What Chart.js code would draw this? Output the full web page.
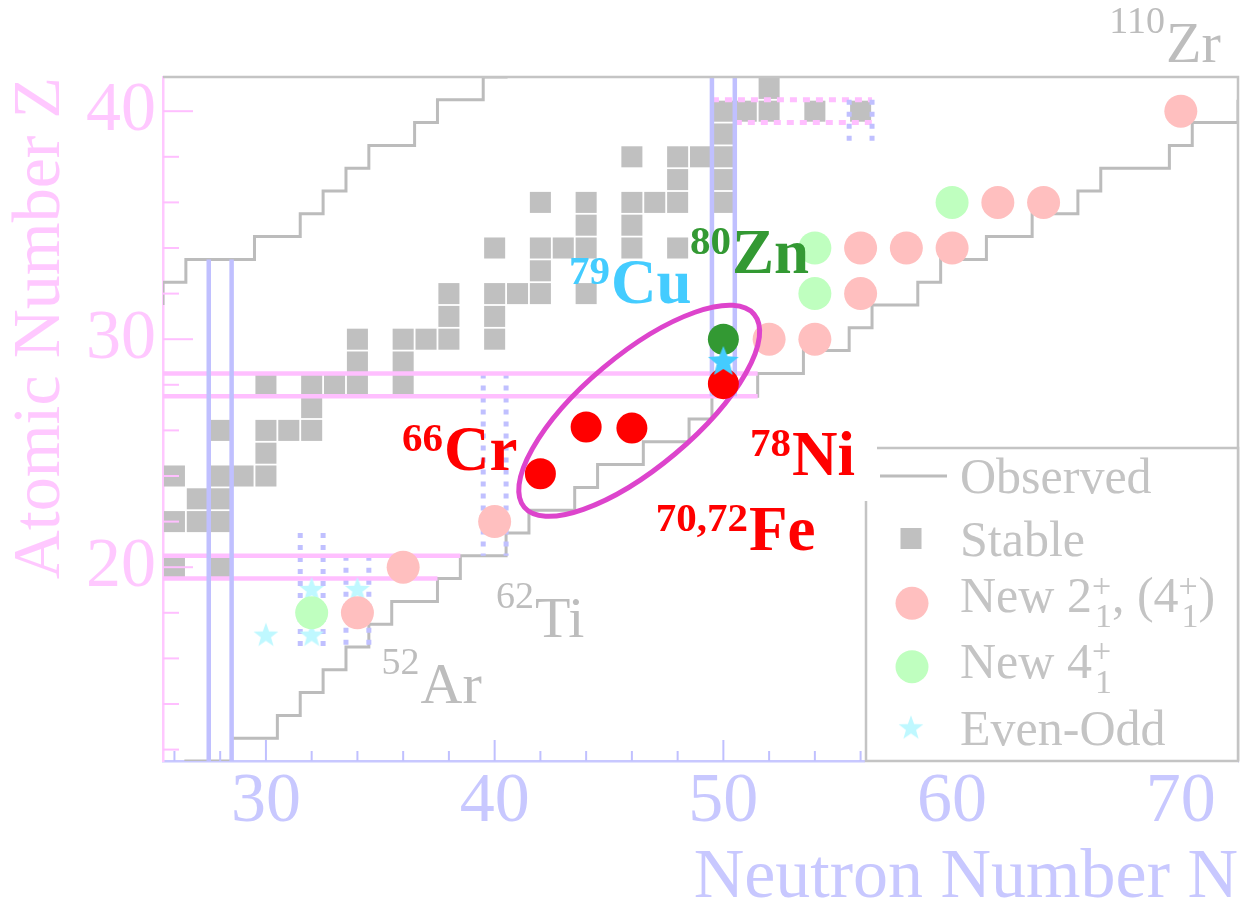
<!DOCTYPE html>
<html>
<head>
<meta charset="utf-8">
<title>Nuclear chart near 78Ni</title>
<script src="https://cdn.jsdelivr.net/npm/chart.js@4/dist/chart.umd.min.js"></script>
<style>
html,body{margin:0;padding:0;background:#ffffff;overflow:hidden;}
canvas{display:block;}
</style>
</head>
<body>
<canvas id="chart" width="1249" height="908"></canvas>
<script>
// ================= DATA =================
const xTickValues = [26,28,30,32,34,36,38,40,42,44,46,48,50,52,54,56,58,60,62,64,66,68,70,72];
const yTickValues = [12,14,16,18,20,22,24,26,28,30,32,34,36,38,40];
const xTickLabels = [30,40,50,60,70];
const yTickLabels = [20,30,40];

// stable nuclei [N, Z]
const stableNuclei = [
  [26,20],[28,20],
  [26,22],[27,22],[28,22],
  [27,23],[28,23],
  [26,24],[28,24],[29,24],[30,24],
  [30,25],
  [28,26],[30,26],[31,26],[32,26],
  [32,27],
  [30,28],[32,28],[33,28],[34,28],[36,28],
  [34,29],[36,29],
  [34,30],[36,30],[37,30],[38,30],[40,30],
  [38,31],[40,31],
  [38,32],[40,32],[41,32],[42,32],[44,32],
  [42,33],
  [40,34],[42,34],[43,34],[44,34],[46,34],[48,34],
  [44,35],[46,35],
  [42,36],[44,36],[46,36],[47,36],[48,36],[50,36],
  [48,37],[50,37],
  [46,38],[48,38],[49,38],[50,38],
  [50,39],
  [50,40],[51,40],[52,40],[54,40],[56,40],
  [52,41]
];

// new 2+ (4+) states [N, Z]
const new2plus = [[34,18],[36,20],[40,22],[52,30],[54,30],[56,32],[56,34],[58,34],[60,34],[62,36],[64,36],[70,40]];
// new 4+ states
const new4plus = [[32,18],[54,32],[54,34],[60,36]];
// even-odd nuclei
const evenOdd = [[30,17],[32,17],[32,19],[34,19]];
// highlighted nuclei
const highlightRed = [[42,24.1],[44,26.15],[46,26.1],[50,28.05]];   // 66Cr, 70Fe, 72Fe, 78Ni
const highlightGreen = [[50,30]];                                  // 80Zn
const highlightCyan = [[50,29]];                                   // 79Cu

// limits of observed nuclei (step corners) [N, Z]
const protonSideLimit = [
  [25.5,31.5],[25.5,32.5],[26.5,32.5],[26.5,33.5],[29.5,33.5],[29.5,34.5],[31.5,34.5],[31.5,35.5],
  [32.5,35.5],[32.5,36.5],[33.5,36.5],[33.5,37.5],[34.5,37.5],[34.5,38.5],[36.5,38.5],[36.5,39.5],
  [37.5,39.5],[37.5,40.5],[39.5,40.5],[39.5,41.5],[40.5,41.5],[40.5,42.5]
];
const neutronSideLimit = [
  [26.5,10.5],[26.5,11.5],[28.5,11.5],[28.5,12.5],[30.5,12.5],[30.5,13.5],[31.5,13.5],[31.5,14.5],
  [32.5,14.5],[32.5,15.5],[33.5,15.5],[33.5,16.5],[34.5,16.5],[34.5,17.5],[35.5,17.5],[35.5,18.5],
  [37.5,18.5],[37.5,19.5],[38.5,19.5],[38.5,20.5],[40.5,20.5],[40.5,21.5],[41.5,21.5],[41.5,22.5],
  [43.5,22.5],[43.5,23.5],[44.5,23.5],[44.5,24.5],[46.5,24.5],[46.5,25.5],[48.5,25.5],[48.5,26.5],
  [49.5,26.5],[49.5,27.5],[51.5,27.5],[51.5,28.5],[53.5,28.5],[53.5,29.5],[55.5,29.5],[55.5,30.5],
  [56.5,30.5],[56.5,31.5],[58.5,31.5],[58.5,32.5],[59.5,32.5],[59.5,33.5],[61.5,33.5],[61.5,34.5],
  [63.5,34.5],[63.5,35.5],[65.5,35.5],[65.5,36.5],[66.5,36.5],[66.5,37.5],[69.5,37.5],[69.5,38.5],
  [70.5,38.5],[70.5,39.5],[72.5,39.5],[72.5,40.5],[73.5,40.5]
];

// magic-number lines
const shellLinesN = [[27.5,11.5,33.5],[28.5,11.5,33.5],[49.5,27.5,41.5],[50.5,27.5,41.5]];   // [N, Zfrom, Zto]
const shellLinesZ = [[19.5,25.5,37.5],[20.5,25.5,38.5],[27.5,25.5,51.5],[28.5,25.5,51.5]];   // [Z, Nfrom, Nto]
const subShellN = [[31.5,16.5,21.5],[32.5,16.5,21.5],[33.5,16.5,20.5],[34.5,16.5,20.5],
                   [39.5,20.5,28.5],[40.5,20.5,28.5],[55.5,38.5,40.5],[56.5,38.5,40.5]];    // [N, Zfrom, Zto]
const subShellZ = [[39.5,50.5,56.5],[40.5,49.5,56.5]];                                       // [Z, Nfrom, Nto]

// nucleus labels
const labelSup = ['66','79','80','78','70,72','52','62','110'];
const labelSym = ['Cr','Cu','Zn','Ni','Fe','Ar','Ti','Zr'];
const labelAnchor = [[37.79,24.26],[45.09,31.57],[50.38,32.89],[53.0,24.04],[51.12,20.75],[36.76,14.03],[41.76,16.95],[69.35,42.16]];

// ellipse around the region of interest (data units)
const ellipseCenter = [46.32, 26.86];
const ellipseSemiAxes = [6.56, 2.45];
const ellipseAngleDeg = 40;

// ================= STYLES =================
const SERIF = "'Liberation Serif', 'Times New Roman', Times, serif";
const AXIS_BLUE = '#c8c8ff';
const AXIS_PINK = '#ffc8ff';
const LINE_BLUE = '#c0c0ff';
const LINE_PINK = '#ffbfff';
const GRAY_LINE = '#bcbcbc';
const GRAY_SQ = '#c0c0c0';
const PINK_DOT = '#ffbfbf';
const GREEN_DOT = '#bfffbf';
const CYAN_LIGHT = '#bff8ff';
const LABEL_GRAY = '#bdbdbd';
const labelColor = ['#ff0000','#44ccff','#339933','#ff0000','#ff0000',LABEL_GRAY,LABEL_GRAY,LABEL_GRAY];
const labelBold = [true,true,true,true,true,false,false,false];

function makeStar(R, r, color) {
  const c = document.createElement('canvas');
  const s = Math.ceil(2 * R + 2);
  c.width = s; c.height = s;
  const g = c.getContext('2d');
  g.fillStyle = color;
  g.beginPath();
  for (let i = 0; i < 10; i++) {
    const a = -Math.PI / 2 + i * Math.PI / 5;
    const rad = (i % 2) ? r : R;
    g.lineTo(s / 2 + rad * Math.cos(a), s / 2 + rad * Math.sin(a));
  }
  g.closePath();
  g.fill();
  return c;
}
const starLight = makeStar(13, 5.3, CYAN_LIGHT);
const starBright = makeStar(16, 7, '#44ccff');

const pts = arr => arr.map(([x, y]) => ({x, y}));
const cellPx = chart => Math.abs(chart.scales.x.getPixelForValue(1) - chart.scales.x.getPixelForValue(0));

const datasets = [];
function lineSet(data, color, width, dash, order) {
  datasets.push({data, showLine: true, borderColor: color, borderWidth: width, borderDash: dash || [],
    borderCapStyle: 'butt', pointRadius: 0, fill: false, tension: 0, order});
}
lineSet(pts(protonSideLimit), GRAY_LINE, 3, null, 100);
lineSet(pts(neutronSideLimit), GRAY_LINE, 3, null, 100);

datasets.push({label: 'Stable', data: pts(stableNuclei), pointStyle: 'rect', backgroundColor: GRAY_SQ, borderWidth: 0,
  pointRadius: c => cellPx(c.chart) * 0.92 / Math.SQRT2, order: 90});

shellLinesN.forEach(([n, z1, z2]) => lineSet([{x: n, y: z1}, {x: n, y: z2}], LINE_BLUE, 4.5, null, 80));
shellLinesZ.forEach(([z, n1, n2]) => lineSet([{x: n1, y: z}, {x: n2, y: z}], LINE_PINK, 4.5, null, 80));
subShellN.forEach(([n, z1, z2]) => lineSet([{x: n, y: z2}, {x: n, y: z1}], LINE_BLUE, 5, [5, 7], 80));
subShellZ.forEach(([z, n1, n2]) => lineSet([{x: n1, y: z}, {x: n2, y: z}], LINE_PINK, 5, [7, 6], 80));

datasets.push({label: 'New 2+', data: pts(new2plus), pointStyle: 'circle', backgroundColor: PINK_DOT, borderWidth: 0, pointRadius: 16.5, order: 70});
datasets.push({label: 'New 4+', data: pts(new4plus), pointStyle: 'circle', backgroundColor: GREEN_DOT, borderWidth: 0, pointRadius: 16.5, order: 70});
datasets.push({label: 'Even-Odd', data: pts(evenOdd), pointStyle: starLight, pointRadius: 13, order: 70});
datasets.push({label: 'highlightRed', data: pts(highlightRed), pointStyle: 'circle', backgroundColor: '#ff0000', borderWidth: 0, pointRadius: 15.5, order: 3});
datasets.push({label: 'highlightGreen', data: pts(highlightGreen), pointStyle: 'circle', backgroundColor: '#339933', borderWidth: 0, pointRadius: 15.5, order: 2});
datasets.push({label: 'highlightCyan', data: pts(highlightCyan), pointStyle: starBright, pointRadius: 16, order: 1});

// ================= PLUGINS =================
const ellipsePlugin = {
  id: 'ellipseMark',
  beforeDatasetDraw(chart, args) {
    if (chart.data.datasets[args.index].label !== 'highlightRed') return;
    const {ctx, scales: {x, y}, chartArea: a} = chart;
    const cx = x.getPixelForValue(ellipseCenter[0]);
    const cy = y.getPixelForValue(ellipseCenter[1]);
    const u = cellPx(chart);
    ctx.save();
    ctx.beginPath(); ctx.rect(a.left, a.top, a.right - a.left, a.bottom - a.top); ctx.clip();
    ctx.beginPath();
    ctx.ellipse(cx, cy, ellipseSemiAxes[0] * u, ellipseSemiAxes[1] * u, -ellipseAngleDeg * Math.PI / 180, 0, 2 * Math.PI);
    ctx.lineWidth = 5;
    ctx.strokeStyle = '#dd44cc';
    ctx.stroke();
    ctx.restore();
  }
};

const decorPlugin = {
  id: 'decor',
  afterDraw(chart) {
    const {ctx, chartArea: a, scales: {x, y}} = chart;
    ctx.save();
    // inward ticks
    ctx.lineWidth = 2;
    ctx.strokeStyle = LINE_BLUE;
    x.ticks.forEach(t => {
      const px = x.getPixelForValue(t.value);
      const len = t.value % 10 === 0 ? 21 : 10;
      ctx.beginPath(); ctx.moveTo(px, a.bottom); ctx.lineTo(px, a.bottom - len); ctx.stroke();
    });
    ctx.strokeStyle = LINE_PINK;
    y.ticks.forEach(t => {
      const py = y.getPixelForValue(t.value);
      const len = t.value % 10 === 0 ? 30 : 16;
      ctx.beginPath(); ctx.moveTo(a.left, py); ctx.lineTo(a.left + len, py); ctx.stroke();
    });
    // top and right frame
    ctx.strokeStyle = '#c4c4c4';
    ctx.lineWidth = 2.5;
    ctx.beginPath();
    ctx.moveTo(a.left, a.top); ctx.lineTo(a.right, a.top); ctx.lineTo(a.right, a.bottom);
    ctx.stroke();

    // nucleus labels
    labelSym.forEach((sym, i) => {
      const px = x.getPixelForValue(labelAnchor[i][0]);
      const py = y.getPixelForValue(labelAnchor[i][1]);
      const bold = labelBold[i];
      ctx.fillStyle = labelColor[i];
      ctx.textBaseline = 'alphabetic';
      ctx.font = (bold ? 'bold 41px ' : '38px ') + SERIF;
      ctx.textAlign = 'right';
      ctx.fillText(labelSup[i], px - 1, py - (bold ? 19 : 29));
      ctx.font = (bold ? 'bold 63px ' : '58px ') + SERIF;
      ctx.textAlign = 'left';
      ctx.fillText(sym, px, py);
    });

    // legend box
    const L = a.right - 372, T = a.bottom - 313;
    ctx.fillStyle = '#ffffff';
    ctx.fillRect(L - 1, T, a.right - L + 1, a.bottom - T + 2);
    ctx.strokeStyle = '#c4c4c4';
    ctx.lineWidth = 2.5;
    ctx.beginPath();
    ctx.moveTo(L + 11, T); ctx.lineTo(a.right, T); ctx.lineTo(a.right, a.bottom); ctx.lineTo(L, a.bottom); ctx.lineTo(L, T + 53);
    ctx.stroke();

    const mainFont = '50px ' + SERIF, smallFont = '34px ' + SERIF;
    const tx = L + 94, mx = L + 45;
    // Observed
    ctx.strokeStyle = GRAY_LINE; ctx.lineWidth = 3;
    ctx.beginPath(); ctx.moveTo(L + 14, T + 28); ctx.lineTo(L + 81, T + 28); ctx.stroke();
    // Stable
    ctx.fillStyle = GRAY_SQ;
    ctx.fillRect(mx - 10.5, T + 80, 21, 21);
    // circles
    ctx.fillStyle = PINK_DOT;
    ctx.beginPath(); ctx.arc(mx + 1, T + 155.3, 16.5, 0, 2 * Math.PI); ctx.fill();
    ctx.fillStyle = GREEN_DOT;
    ctx.beginPath(); ctx.arc(mx + 1, T + 218.7, 16.5, 0, 2 * Math.PI); ctx.fill();
    ctx.drawImage(starLight, mx - starLight.width / 2, T + 280.3 - starLight.height / 2);

    ctx.fillStyle = '#c4c4c4';
    ctx.textAlign = 'left';
    ctx.textBaseline = 'alphabetic';
    const rich = (parts, base, supOff) => {
      let cx = tx;
      parts.forEach(p => {
        if (p.length === 1) {
          ctx.font = mainFont; ctx.fillText(p[0], cx, base); cx += ctx.measureText(p[0]).width;
        } else {
          ctx.font = smallFont;
          ctx.fillText(p[0], cx, base - supOff);
          ctx.fillText(p[1], cx + 3, base + 15);
          cx += Math.max(ctx.measureText(p[0]).width, ctx.measureText(p[1]).width + 3);
        }
      });
    };
    rich([['Observed']], T + 45.3, 15);
    rich([['Stable']], T + 108, 15);
    rich([['New 2'], ['+', '1'], [', (4'], ['+', '1'], [')']], T + 163.7, 15);
    rich([['New 4'], ['+', '1']], T + 230.3, 16);
    rich([['Even-Odd']], T + 297, 15);
    ctx.restore();
  }
};

// ================= CHART =================
new Chart(document.getElementById('chart'), {
  type: 'scatter',
  data: {datasets},
  options: {
    responsive: false,
    animation: false,
    devicePixelRatio: 1,
    events: [],
    layout: {autoPadding: false, padding: {left: 0, top: 77, right: 11, bottom: 0}},
    plugins: {legend: {display: false}, tooltip: {enabled: false}},
    scales: {
      x: {
        type: 'linear', position: 'bottom', min: 25.5, max: 72.5,
        afterBuildTicks: s => { s.ticks = xTickValues.map(v => ({value: v})); },
        afterFit: s => { s.height = 147; s.paddingLeft = 0; s.paddingRight = 0; },
        grid: {display: false, drawTicks: false},
        border: {display: true, color: AXIS_BLUE, width: 2.5},
        ticks: {autoSkip: false, maxRotation: 0, minRotation: 0, padding: 0, color: AXIS_BLUE,
          font: {family: SERIF, size: 70},
          callback: v => xTickLabels.includes(v) ? String(v) : ''},
        title: {display: true, text: 'Neutron Number N', align: 'end', color: AXIS_BLUE,
          font: {family: SERIF, size: 70, lineHeight: 0.6}, padding: {top: 0, bottom: 8.7}}
      },
      y: {
        type: 'linear', position: 'left', min: 11.5, max: 41.5,
        afterBuildTicks: s => { s.ticks = yTickValues.map(v => ({value: v})); },
        afterFit: s => { s.width = 163; s.paddingTop = 0; s.paddingBottom = 0; },
        grid: {display: false, drawTicks: false},
        border: {display: true, color: AXIS_PINK, width: 2.5},
        ticks: {autoSkip: false, padding: 7, color: AXIS_PINK,
          font: {family: SERIF, size: 70},
          callback: v => yTickLabels.includes(v) ? String(v) : ''},
        title: {display: true, text: 'Atomic Number Z', align: 'end', color: AXIS_PINK,
          font: {family: SERIF, size: 68, lineHeight: 0.6}, padding: {top: 20.4, bottom: 0}}
      }
    }
  },
  plugins: [ellipsePlugin, decorPlugin]
});
</script>
</body>
</html>
